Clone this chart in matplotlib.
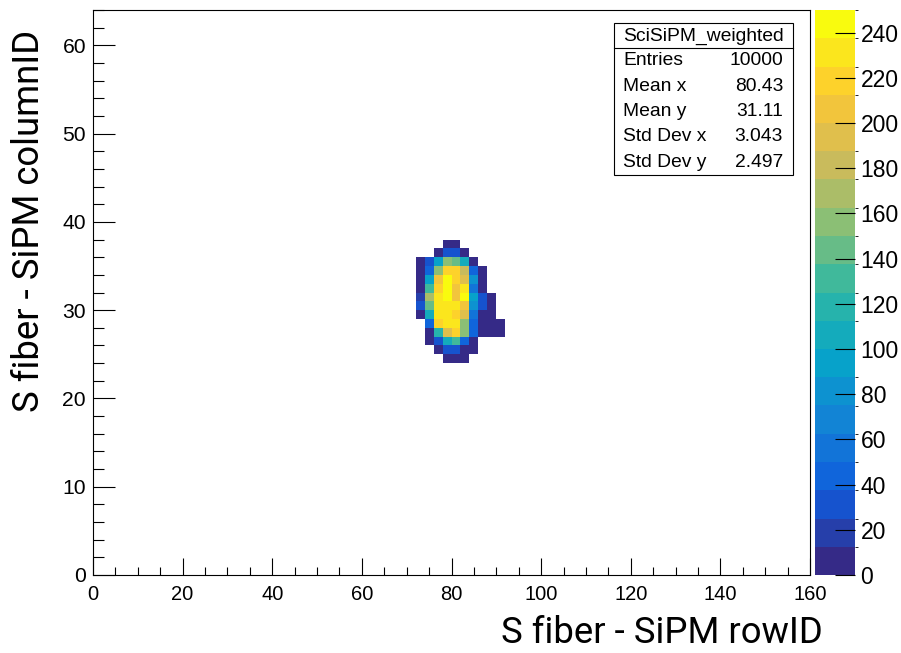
import numpy as np
import matplotlib
matplotlib.use("Agg")
import matplotlib.pyplot as plt
from matplotlib.colors import LinearSegmentedColormap, BoundaryNorm, ListedColormap
from matplotlib.patches import Rectangle
from matplotlib.lines import Line2D
from matplotlib.ticker import MultipleLocator

# histogram binning: rowID 0-160 in steps of 2, columnID 0-64 in steps of 1
x_edges = np.arange(0, 161, 2)
y_edges = np.arange(0, 65, 1)

# filled cells: columns start at rowID 72, one list per columnID row
x_start = 72
row_ids = [37, 36, 35, 34, 33, 32, 31, 30, 29, 28, 27, 26, 25, 24]
row_counts = [
    [0, 0, 0, 8, 8, 0, 0, 0, 0, 0],
    [0, 0, 8, 35, 35, 8, 0, 0, 0, 0],
    [6, 30, 95, 150, 145, 100, 8, 0, 0, 0],
    [8, 40, 160, 220, 215, 180, 45, 8, 0, 0],
    [10, 95, 200, 240, 215, 195, 80, 10, 0, 0],
    [10, 130, 215, 247, 205, 235, 60, 12, 0, 0],
    [15, 170, 228, 250, 205, 240, 90, 30, 6, 0],
    [30, 140, 230, 235, 225, 210, 80, 30, 8, 0],
    [10, 100, 225, 235, 215, 190, 50, 10, 8, 0],
    [0, 40, 215, 230, 230, 160, 40, 10, 6, 6],
    [0, 8, 120, 195, 215, 150, 40, 8, 6, 6],
    [0, 8, 30, 100, 130, 40, 8, 0, 0, 0],
    [0, 0, 8, 35, 35, 8, 6, 0, 0, 0],
    [0, 0, 0, 8, 8, 8, 0, 0, 0, 0],
]

stat_title = "SciSiPM_weighted"
stat_labels = ["Entries", "Mean x", "Mean y", "Std Dev x", "Std Dev y"]
stat_values = ["10000", "80.43", "31.11", "3.043", "2.497"]

# kBird palette stops
bird_r = [0.2082, 0.0592, 0.0780, 0.0232, 0.1802, 0.5301, 0.8186, 0.9956, 0.9764]
bird_g = [0.1664, 0.3599, 0.5041, 0.6419, 0.7178, 0.7492, 0.7328, 0.7862, 0.9832]
bird_b = [0.5293, 0.8684, 0.8385, 0.7914, 0.6425, 0.4662, 0.3499, 0.1968, 0.0539]
n_contours = 20

H = np.zeros((len(y_edges) - 1, len(x_edges) - 1))
c0 = x_start // 2
for yid, counts in zip(row_ids, row_counts):
    H[yid, c0:c0 + len(counts)] = counts
H = np.ma.masked_equal(H, 0)
zmax = H.max()

bird = LinearSegmentedColormap.from_list(
    "bird", list(zip(np.linspace(0, 1, len(bird_r)), zip(bird_r, bird_g, bird_b))))
cmap = ListedColormap(bird(np.linspace(0, 1, n_contours)))
levels = np.linspace(0, zmax, n_contours + 1)
norm = BoundaryNorm(levels, n_contours)

W, Hpx = 901, 653
fig = plt.figure(figsize=(W / 100, Hpx / 100), dpi=100)

def fx(px):
    return px / W

def fy(py):
    return 1 - py / Hpx

ax = fig.add_axes([fx(93), fy(575), fx(810) - fx(93), fy(10) - fy(575)])
mesh = ax.pcolormesh(x_edges, y_edges, H, cmap=cmap, norm=norm)
ax.set_xlim(0, 160)
ax.set_ylim(0, 64)

tick_family = "Liberation Sans"
ax.xaxis.set_major_locator(MultipleLocator(20))
ax.xaxis.set_minor_locator(MultipleLocator(5))
ax.yaxis.set_major_locator(MultipleLocator(10))
ax.yaxis.set_minor_locator(MultipleLocator(2))
ax.tick_params(axis="x", which="major", direction="in", length=12.2, width=0.8, pad=7)
ax.tick_params(axis="x", which="minor", direction="in", length=6.1, width=0.8)
ax.tick_params(axis="y", which="major", direction="in", length=15.5, width=0.8, pad=5)
ax.tick_params(axis="y", which="minor", direction="in", length=7.7, width=0.8)
for lab in ax.get_xticklabels():
    lab.set_fontfamily(tick_family)
    lab.set_fontsize(14.5)
for lab in ax.get_yticklabels():
    lab.set_fontfamily(tick_family)
    lab.set_fontsize(15.2)
for sp in ax.spines.values():
    sp.set_linewidth(0.8)

# palette axis
cax = fig.add_axes([fx(815), fy(575), fx(855) - fx(815), fy(10) - fy(575)])
cb = fig.colorbar(mesh, cax=cax, ticks=np.arange(0, 241, 20))
cb.outline.set_visible(False)
cb.ax.tick_params(direction="in", length=14.4, width=0.8, pad=4)
for lab in cb.ax.get_yticklabels():
    lab.set_fontfamily(tick_family)
    lab.set_fontsize(16.5)

# axis titles
fig.text(fx(823), fy(643), "S fiber - SiPM rowID", family="Roboto", fontsize=26.3,
         ha="right", va="baseline")
fig.text(fx(47), fy(30), "S fiber - SiPM columnID", family="Roboto", fontsize=26.3,
         rotation=90, ha="right", va="top")

# statistics box
bx0, bx1, by0, by1 = 614, 793, 23, 175
fig.patches.append(Rectangle((fx(bx0), fy(by1)), fx(bx1) - fx(bx0), fy(by0) - fy(by1),
                             transform=fig.transFigure, facecolor="white",
                             edgecolor="black", linewidth=0.8, zorder=5))
fig.lines.append(Line2D([fx(bx0), fx(bx1)], [fy(48), fy(48)], transform=fig.transFigure,
                        color="black", linewidth=0.8, zorder=6))
stat_font = {"family": tick_family, "size": 13.9, "zorder": 7}
fig.text(fx((bx0 + bx1) / 2), fy(36), stat_title, ha="center", va="center", **stat_font)
row_h = (by1 - 48) / len(stat_labels)
for i, (lab, val) in enumerate(zip(stat_labels, stat_values)):
    yc = 48 + row_h * (i + 0.5)
    fig.text(fx(623), fy(yc), lab, ha="left", va="center", **stat_font)
    fig.text(fx(783), fy(yc), val, ha="right", va="center", **stat_font)

fig.savefig("out.png", dpi=100)
